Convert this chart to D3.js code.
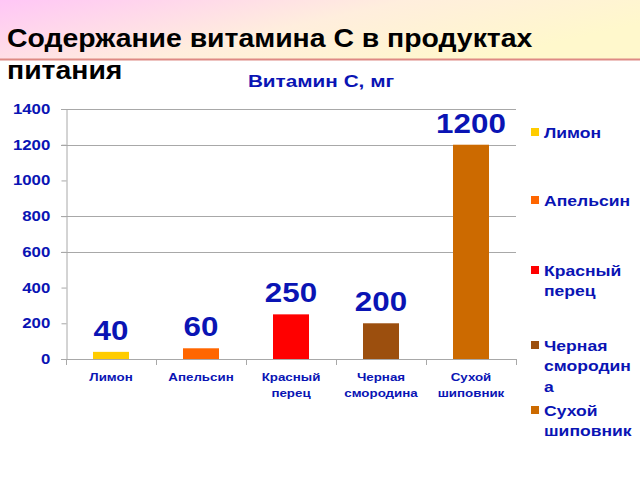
<!DOCTYPE html>
<html>
<head>
<meta charset="utf-8">
<script src="https://cdn.jsdelivr.net/npm/d3@7"></script>
<style>
  body { margin: 0; background: #fff; }
  svg { display: block; font-family: Arial, "Liberation Sans", sans-serif; }
</style>
</head>
<body>
<svg id="chart" width="640" height="480"></svg>
<script>
// data
const products = ["Лимон", "Апельсин", "Красный перец", "Черная смородина", "Сухой шиповник"]
const vitaminC = [40, 60, 250, 200, 1200]
const barColors = ["#ffcc00", "#ff6600", "#ff0000", "#9c4f0e", "#cc6a00"]
const yTicks = [0, 200, 400, 600, 800, 1000, 1200, 1400]
const gridTicks = [600, 800, 1200, 1400] // only these lines show in the picture
// axis labels split in two lines, legend labels wrapped like in the picture
const axisLabels = [["Лимон"], ["Апельсин"], ["Красный", "перец"], ["Черная", "смородина"], ["Сухой", "шиповник"]]
const legendLabels = [["Лимон"], ["Апельсин"], ["Красный", "перец"], ["Черная", "смородин", "а"], ["Сухой", "шиповник"]]

const blue = "#0a14b4"
const stretch = 1.16 // the slide text is a bit wider than plain Arial
const svg = d3.select("#chart")

// header gradient band
const defs = svg.append("defs")
const grad = defs.append("linearGradient").attr("id", "hdr")
    .attr("x1", "0%").attr("y1", "0%").attr("x2", "100%").attr("y2", "40%")
grad.append("stop").attr("offset", "0%").attr("stop-color", "#ffc6f6")
grad.append("stop").attr("offset", "55%").attr("stop-color", "#ffeedd")
grad.append("stop").attr("offset", "100%").attr("stop-color", "#fff8cc")

svg.append("rect").attr("x", 0).attr("y", 0).attr("width", 640).attr("height", 59)
    .attr("fill", "url(#hdr)")
svg.append("line").attr("x1", 0).attr("x2", 640).attr("y1", 59.5).attr("y2", 59.5)
    .attr("stroke", "#de8a84").attr("stroke-width", 2)

// slide title
const title = svg.append("g").attr("transform", `translate(7,0) scale(1.135,1)`)
title.append("text").attr("x", 0).attr("y", 47)
    .attr("font-size", 25).attr("font-weight", "bold").attr("fill", "#000")
    .text("Содержание витамина С в продуктах")
title.append("text").attr("x", 0).attr("y", 79)
    .attr("font-size", 25).attr("font-weight", "bold").attr("fill", "#000")
    .text("питания")

// chart title
svg.append("text")
    .attr("transform", "translate(321,87) scale(1.22,1)")
    .attr("text-anchor", "middle")
    .attr("font-size", 17).attr("font-weight", "bold").attr("fill", blue)
    .text("Витамин С, мг")

const margin = { left: 66, right: 516, top: 109, bottom: 359 }

const x = d3.scaleBand()
    .domain(products)
    .range([margin.left, margin.right])
    .paddingInner(0.6)
    .paddingOuter(0.3)

const y = d3.scaleLinear()
    .domain([0, 1400])
    .range([margin.bottom, margin.top])

// grid
svg.append("g").selectAll("line.grid")
    .data(gridTicks)
    .join("line")
    .attr("class", "grid")
    .attr("x1", margin.left - 5).attr("x2", margin.right)
    .attr("y1", d => Math.round(y(d)) + 0.5).attr("y2", d => Math.round(y(d)) + 0.5)
    .attr("stroke", "#a8a8a8")

// y axis
const yAxis = svg.append("g")
    .attr("transform", `translate(${margin.left + 0.5},0)`)
    .call(d3.axisLeft(y).tickValues(yTicks).tickFormat(d3.format("d")).tickSize(5).tickPadding(11))
yAxis.select(".domain").attr("stroke", "#a8a8a8")
yAxis.selectAll(".tick line").attr("stroke", "#a8a8a8")
yAxis.selectAll(".tick text")
    .attr("font-size", 14).attr("font-weight", "bold").attr("fill", blue)
    .attr("font-family", "Arial, 'Liberation Sans', sans-serif")
    .attr("x", -13.5)
    .attr("transform", "scale(1.2,1)")

// x axis line with ticks at category boundaries
const step = x.step()
const boundaries = d3.range(products.length + 1).map(i => margin.left + i * step)
svg.append("line")
    .attr("x1", margin.left - 5).attr("x2", margin.right)
    .attr("y1", margin.bottom + 0.5).attr("y2", margin.bottom + 0.5)
    .attr("stroke", "#a8a8a8")
svg.append("g").selectAll("line")
    .data(boundaries)
    .join("line")
    .attr("x1", d => Math.round(d) + 0.5).attr("x2", d => Math.round(d) + 0.5)
    .attr("y1", margin.bottom).attr("y2", margin.bottom + 6)
    .attr("stroke", "#a8a8a8")

// bars
svg.append("g").selectAll("rect")
    .data(vitaminC)
    .join("rect")
    .attr("x", (d, i) => x(products[i]))
    .attr("width", x.bandwidth())
    .attr("y", d => y(d))
    .attr("height", d => y(0) - y(d))
    .attr("fill", (d, i) => barColors[i])

// value labels
svg.append("g").selectAll("text")
    .data(vitaminC)
    .join("text")
    .attr("transform", (d, i) =>
        `translate(${x(products[i]) + x.bandwidth() / 2},${y(d) - 12}) scale(1.12,1)`)
    .attr("text-anchor", "middle")
    .attr("font-size", 28).attr("font-weight", "bold").attr("fill", blue)
    .text(d => d)

// category labels
const cat = svg.append("g").selectAll("text")
    .data(axisLabels)
    .join("text")
    .attr("transform", (d, i) =>
        `translate(${x(products[i]) + x.bandwidth() / 2},381) scale(${stretch},1)`)
    .attr("text-anchor", "middle")
    .attr("font-size", 11.5).attr("font-weight", "bold").attr("fill", blue)
cat.selectAll("tspan")
    .data(d => d)
    .join("tspan")
    .attr("x", 0)
    .attr("dy", (d, i) => i === 0 ? 0 : 16)
    .text(d => d)

// legend
const legendY = [133, 201, 271, 346, 411]
const leg = svg.append("g").selectAll("g")
    .data(legendLabels)
    .join("g")
    .attr("transform", (d, i) => `translate(531,${legendY[i]})`)
leg.append("rect")
    .attr("x", 0).attr("y", -5).attr("width", 8).attr("height", 8)
    .attr("fill", (d, i) => barColors[i])
const legText = leg.append("text")
    .attr("transform", `translate(13,5) scale(1.17,1)`)
    .attr("font-size", 15).attr("font-weight", "bold").attr("fill", blue)
legText.selectAll("tspan")
    .data(d => d)
    .join("tspan")
    .attr("x", 0)
    .attr("dy", (d, i) => i === 0 ? 0 : 20.5)
    .text(d => d)
</script>
</body>
</html>
